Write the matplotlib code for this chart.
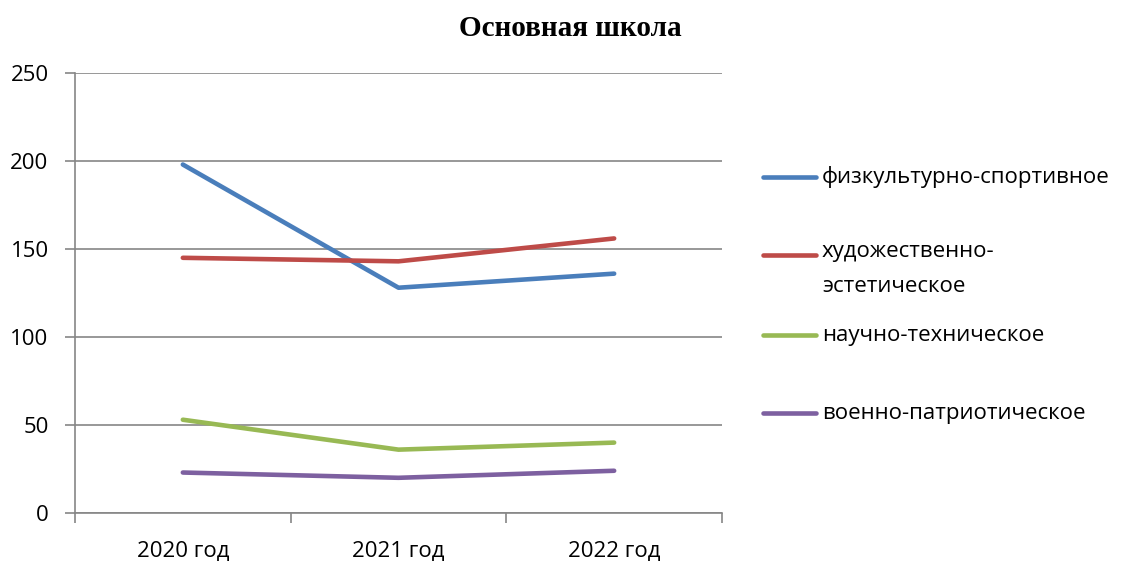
import numpy as np
import matplotlib.pyplot as plt
from matplotlib.lines import Line2D

# ---------------------------------
# DATA
# ---------------------------------

years = ["2020 год", "2021 год", "2022 год"]

sport = [198, 128, 136]
art = [145, 143, 156]
tech = [53, 36, 40]
military = [23, 20, 24]

series_names = [
    "физкультурно-спортивное",
    "художественно-\nэстетическое",
    "научно-техническое",
    "военно-патриотическое",
]
colors = ["#4a7ebb", "#be4b48", "#98b954", "#7d60a0"]

# ---------------------------------
# PLOT
# ---------------------------------

plt.rcParams['font.family'] = ['Open Sans', 'DejaVu Sans']

W, H = 1122, 561
fig = plt.figure(figsize=(W / 100, H / 100), dpi=100)
ax = fig.add_axes([75 / W, 48 / H, (722 - 75) / W, (513 - 73) / H])

x = np.arange(len(years))
for vals, c in zip([sport, art, tech, military], colors):
    ax.plot(x, vals, color=c, lw=3.3, solid_capstyle='round', solid_joinstyle='round', zorder=3)

ax.set_xlim(-0.5, len(years) - 0.5)
ax.set_ylim(0, 250)
ax.set_yticks(np.arange(0, 251, 50))
ax.set_xticks(x)
ax.set_xticklabels(years)
ax.set_xticks(np.arange(-0.5, len(years), 1.0), minor=True)

gray = "#868686"
ax.grid(axis='y', color=gray, lw=1.2)
ax.set_axisbelow(True)
for s in ['top', 'right']:
    ax.spines[s].set_visible(False)
for s in ['left', 'bottom']:
    ax.spines[s].set_color(gray)
    ax.spines[s].set_linewidth(1.2)

fs = 16
ax.tick_params(axis='x', which='major', length=0, pad=20, labelsize=fs)
ax.tick_params(axis='x', which='minor', length=7, color=gray, width=1.2)
ax.tick_params(axis='y', length=7, color=gray, width=1.2, pad=12, labelsize=fs)

fig.text(570 / W, 1 - 28 / H, "Основная школа", ha='center', va='center',
         family='Liberation Serif', fontweight='bold', fontsize=21)

# legend drawn by hand to follow the reference spacing
rows = [177, 255, 335, 413]
for name, c, yy in zip(series_names, colors, rows):
    fy = 1 - yy / H
    fig.lines.append(Line2D([763 / W, 816 / W], [fy, fy], color=c, lw=3.3,
                            solid_capstyle='round', transform=fig.transFigure))
    if '\n' in name:
        fig.text(822 / W, 1 - (yy - 14) / H, name, ha='left', va='top',
                 fontsize=fs, linespacing=1.9)
    else:
        fig.text(822 / W, fy, name, ha='left', va='center', fontsize=fs)

fig.savefig("out.png", dpi=100)
